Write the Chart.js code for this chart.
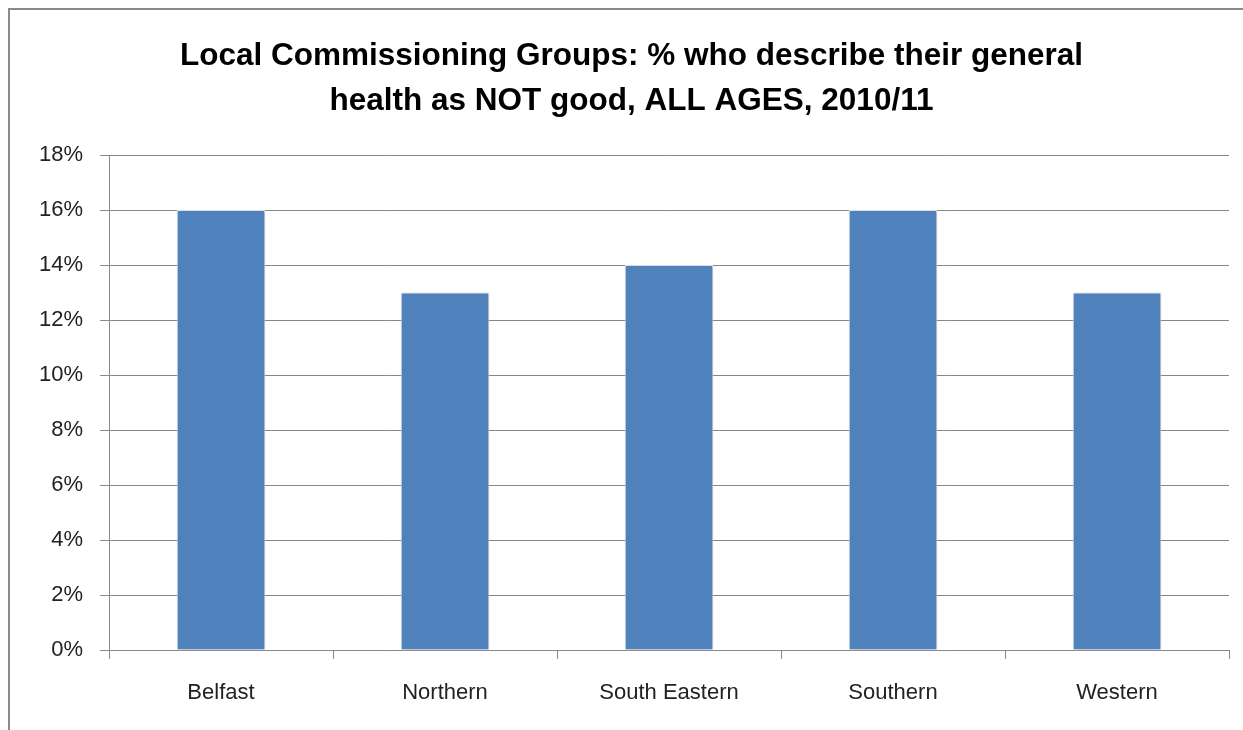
<!DOCTYPE html>
<html>
<head>
<meta charset="utf-8">
<script src="https://cdn.jsdelivr.net/npm/chart.js@4/dist/chart.umd.min.js"></script>
<style>
  html, body { margin: 0; padding: 0; background: #fff; overflow: hidden; }
  .frame {
    position: absolute; left: 8px; top: 8px;
    width: 1240px; height: 730px;
    border-left: 2px solid #8a8a8a; border-top: 2px solid #8a8a8a;
  }
  .box { position: absolute; left: 0; top: 0; width: 1233px; height: 720px; }
</style>
</head>
<body>
<div class="frame"><div class="box"><canvas id="chart"></canvas></div></div>
<script>
const titleLines = ['Local Commissioning Groups: % who describe their general', 'health as NOT good, ALL AGES, 2010/11'];
const groups = ['Belfast', 'Northern', 'South Eastern', 'Southern', 'Western'];
const notGoodPct = [16, 13, 14, 16, 13];

const FONT = '"Liberation Sans", Arial, sans-serif';

const barShadow = {
  id: 'barShadow',
  beforeDatasetDraw(chart) {
    const ctx = chart.ctx;
    ctx.save();
    ctx.shadowColor = 'rgba(0,0,0,0.25)';
    ctx.shadowBlur = 4;
    ctx.shadowOffsetX = 1;
    ctx.shadowOffsetY = 1;
  },
  afterDatasetDraw(chart) {
    chart.ctx.restore();
  }
};

new Chart(document.getElementById('chart'), {
  type: 'bar',
  data: {
    labels: groups,
    datasets: [{
      data: notGoodPct,
      backgroundColor: '#4f81bd',
      borderColor: '#e4ebf4',
      borderWidth: 1,
      categoryPercentage: 1,
      barPercentage: 0.395,
    }],
  },
  options: {
    responsive: true,
    maintainAspectRatio: false,
    animation: false,
    layout: { padding: { left: 24, right: 14, top: 0, bottom: 0 } },
    plugins: {
      legend: { display: false },
      tooltip: { enabled: false },
      title: {
        display: true,
        text: titleLines,
        color: '#000',
        font: { family: FONT, size: 31.5, weight: 'bold', lineHeight: 1.43 },
        padding: { top: 24, bottom: 31 },
      },
    },
    scales: {
      x: {
        grid: { offset: true, drawOnChartArea: false, color: '#888', tickLength: 9 },
        border: { color: '#888', width: 1 },
        ticks: { color: '#222', font: { family: FONT, size: 22 }, padding: 21 },
        afterFit: (s) => { s.height = 80; },
      },
      y: {
        min: 0,
        max: 18,
        grid: { color: '#888', tickLength: 9 },
        border: { color: '#888', width: 1 },
        ticks: {
          stepSize: 2,
          color: '#222',
          font: { family: FONT, size: 22 },
          padding: 17,
          callback: (v) => v + '%',
        },
        afterFit: (s) => { s.width = 75; },
      },
    },
  },
  plugins: [barShadow],
});
</script>
</body>
</html>
